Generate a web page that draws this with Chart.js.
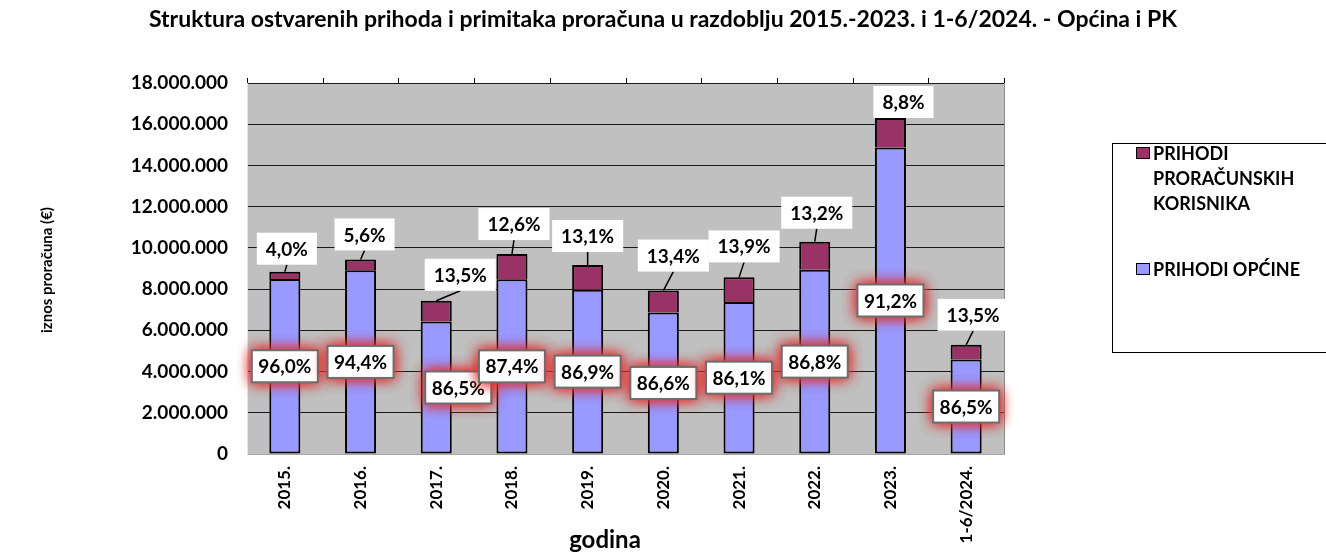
<!DOCTYPE html>
<html>
<head>
<meta charset="utf-8">
<script src="https://cdn.jsdelivr.net/npm/chart.js@4/dist/chart.umd.min.js"></script>
<style>
  html, body { margin: 0; padding: 0; background: #fff; }
  #wrap { width: 1326px; height: 554px; }
</style>
</head>
<body>
<div id="wrap"><canvas id="chart" width="1326" height="554"></canvas></div>
<script>
// podaci očitani sa slike (EUR)
const godine = ['2015.', '2016.', '2017.', '2018.', '2019.', '2020.', '2021.', '2022.', '2023.', '1-6/2024.'];
const prihodiOpcine = [8490000, 8910000, 6430000, 8480000, 7970000, 6870000, 7380000, 8940000, 14870000, 4580000];
const prihodiKorisnika = [355000, 530000, 1005000, 1220000, 1200000, 1060000, 1190000, 1360000, 1430000, 715000];
const udioOpcine = ['96,0%', '94,4%', '86,5%', '87,4%', '86,9%', '86,6%', '86,1%', '86,8%', '91,2%', '86,5%'];
const udioKorisnika = ['4,0%', '5,6%', '13,5%', '12,6%', '13,1%', '13,4%', '13,9%', '13,2%', '8,8%', '13,5%'];

// pomaci oznaka (px) – ručno razmještene oznake kao u Excelu
const korisniciLabelShift = [[2, -23], [4, -25], [24, -26], [2, -30], [0, -29], [10, -35], [5, -31], [2, -29], [13, -16], [7, -30]];
const opcineLabelShift = [0, 0, 22, 0, 0, 0, 0, 0, 0, 0];

const FONT = 'Lato, "Open Sans", sans-serif';
const colors = {
  opcine: '#9999FF',
  korisnici: '#993366',
  plot: '#C0C0C0',
  grid: '#1a1a1a',
};

function formatBroj(v) {
  return String(v).replace(/\B(?=(\d{3})+(?!\d))/g, '.');
}

const decor = {
  id: 'decor',
  beforeDraw(chart) {
    const { ctx, chartArea: a } = chart;
    ctx.save();
    ctx.fillStyle = colors.plot;
    ctx.fillRect(a.left, a.top, a.right - a.left, a.bottom - a.top);
    ctx.restore();
  },
  afterDraw(chart) {
    const { ctx, chartArea: a } = chart;
    ctx.save();

    // okvir plohe
    ctx.strokeStyle = '#8c8c8c';
    ctx.lineWidth = 1;
    ctx.beginPath();
    ctx.moveTo(a.right + 0.5, a.top);
    ctx.lineTo(a.right + 0.5, a.bottom);
    ctx.stroke();

    // crtice na vrhu plohe (granice kategorija)
    const cw = (a.right - a.left) / godine.length;
    ctx.strokeStyle = '#000';
    ctx.beginPath();
    for (let k = 0; k <= godine.length; k++) {
      const x = Math.round(a.left + k * cw) + 0.5;
      ctx.moveTo(x, a.top);
      ctx.lineTo(x, a.top - 5);
    }
    ctx.stroke();

    // oznake podataka
    const mOpc = chart.getDatasetMeta(0);
    const mKor = chart.getDatasetMeta(1);
    ctx.textAlign = 'center';
    ctx.textBaseline = 'middle';
    ctx.font = 'bold 19px ' + FONT;

    // udio korisnika – iznad stupca
    mKor.data.forEach((bar, i) => {
      const txt = udioKorisnika[i];
      const w = ctx.measureText(txt).width + 18;
      const h = 32;
      const cx = bar.x + korisniciLabelShift[i][0];
      const cy = bar.y + korisniciLabelShift[i][1];
      const gap = bar.y - (cy + h / 2);
      if (gap > 3) {
        ctx.strokeStyle = '#000';
        ctx.lineWidth = 1.5;
        ctx.beginPath();
        ctx.moveTo(bar.x, bar.y);
        ctx.lineTo(cx, cy + h / 2);
        ctx.stroke();
      }
      ctx.fillStyle = '#fff';
      ctx.fillRect(cx - w / 2, cy - h / 2, w, h);
      ctx.fillStyle = '#000';
      ctx.fillText(txt, cx, cy + 1);
    });

    // udio općine – sredina stupca, s crvenim sjajem
    mOpc.data.forEach((bar, i) => {
      const txt = udioOpcine[i];
      const w = 66, h = 32;
      const cx = bar.x + opcineLabelShift[i];
      const cy = (bar.y + bar.base) / 2;
      ctx.save();
      ctx.shadowColor = 'rgba(225, 50, 50, 0.8)';
      ctx.shadowBlur = 14;
      ctx.fillStyle = '#fff';
      for (let r = 0; r < 3; r++) ctx.fillRect(cx - w / 2, cy - h / 2, w, h);
      ctx.restore();
      ctx.strokeStyle = '#6e6e6e';
      ctx.lineWidth = 2;
      ctx.strokeRect(cx - w / 2, cy - h / 2, w, h);
      ctx.fillStyle = '#000';
      ctx.fillText(txt, cx, cy + 1);
    });

    // naslov
    ctx.fillStyle = '#000';
    ctx.font = 'bold 23px ' + FONT;
    ctx.fillText('Struktura ostvarenih prihoda i primitaka proračuna u razdoblju 2015.-2023. i 1-6/2024. - Općina i PK', 663, 20);

    // naslov osi x
    ctx.font = 'bold 24px ' + FONT;
    ctx.fillText('godina', 605, 540);

    // naslov osi y
    ctx.save();
    ctx.translate(47, 270);
    ctx.rotate(-Math.PI / 2);
    ctx.font = 'bold 15px ' + FONT;
    ctx.fillText('iznos proračuna (€)', 0, 0);
    ctx.restore();

    // legenda
    ctx.fillStyle = '#fff';
    ctx.fillRect(1112, 143, 230, 209);
    ctx.strokeStyle = '#000';
    ctx.lineWidth = 1;
    ctx.strokeRect(1112.5, 143.5, 240, 209);

    ctx.textAlign = 'left';
    ctx.font = 'bold 18px ' + FONT;
    const items = [
      { color: colors.korisnici, lines: ['PRIHODI', 'PRORAČUNSKIH', 'KORISNIKA'], y: 153 },
      { color: colors.opcine, lines: ['PRIHODI OPĆINE'], y: 269 },
    ];
    items.forEach(it => {
      ctx.fillStyle = it.color;
      ctx.fillRect(1136, it.y - 5, 13, 11);
      ctx.strokeStyle = '#000';
      ctx.strokeRect(1136.5, it.y - 5.5, 13, 11);
      ctx.fillStyle = '#000';
      it.lines.forEach((ln, k) => ctx.fillText(ln, 1153, it.y + 1 + k * 25));
    });

    ctx.restore();
  },
};

new Chart(document.getElementById('chart'), {
  type: 'bar',
  data: {
    labels: godine,
    datasets: [
      {
        label: 'PRIHODI OPĆINE',
        data: prihodiOpcine,
        backgroundColor: colors.opcine,
        borderColor: '#000',
        borderWidth: 2,
        borderSkipped: false,
        stack: 's',
      },
      {
        label: 'PRIHODI PRORAČUNSKIH KORISNIKA',
        data: prihodiKorisnika,
        backgroundColor: colors.korisnici,
        borderColor: '#000',
        borderWidth: 2,
        borderSkipped: 'bottom',
        stack: 's',
      },
    ],
  },
  options: {
    responsive: false,
    animation: false,
    datasets: { bar: { categoryPercentage: 1, barPercentage: 0.41 } },
    layout: { padding: { top: 83, right: 322, bottom: 0, left: 0 } },
    plugins: {
      legend: { display: false },
      tooltip: { enabled: false },
    },
    scales: {
      x: {
        stacked: true,
        afterFit(scale) { scale.height = 100; },
        grid: { display: false, drawTicks: false },
        border: { display: true, color: '#a6a6a6', width: 1 },
        ticks: {
          color: '#000',
          font: { family: FONT, size: 17, weight: 'bold' },
          maxRotation: 90,
          minRotation: 90,
          padding: 12,
        },
      },
      y: {
        stacked: true,
        min: 0,
        max: 18000000,
        afterFit(scale) { scale.width = 247; },
        grid: { color: colors.grid, lineWidth: 1, drawTicks: false },
        border: { display: true, color: '#e6e6e6', width: 1 },
        ticks: {
          stepSize: 2000000,
          color: '#000',
          padding: 19,
          font: { family: FONT, size: 19, weight: 'bold' },
          callback: v => formatBroj(v),
        },
      },
    },
  },
  plugins: [decor],
});
</script>
</body>
</html>
